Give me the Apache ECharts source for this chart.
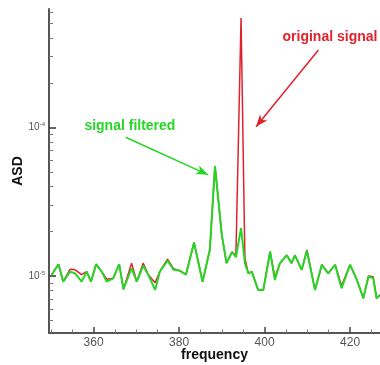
<!DOCTYPE html>
<html>
<head>
<meta charset="utf-8">
<style>
  html, body { margin: 0; padding: 0; background: #fff; }
  #chart { width: 380px; height: 365px; }
</style>
</head>
<body>
<div id="chart"></div>
<script src="https://cdn.jsdelivr.net/npm/echarts@6/dist/echarts.min.js"></script>
<script>
// frequency axis points
const freq = [350.2, 351.8, 352.9, 354.5, 355.7, 357.2, 358.4, 359.4, 360.6, 361.9,
  363.1, 364.6, 366.0, 367.0, 368.9, 370.1, 371.6, 372.8, 374.4, 375.5,
  377.3, 378.7, 380.2, 381.6, 383.5, 385.5, 387.2, 388.4, 390.0, 391.1,
  392.4, 393.3, 394.5, 395.4, 396.2, 397.0, 398.5, 399.7, 401.3, 402.4,
  403.6, 405.2, 406.3, 407.1, 408.7, 409.9, 411.8, 413.4, 414.9, 416.5,
  418.0, 420.0, 421.6, 423.1, 424.3, 425.4, 426.2, 427.0];

// ASD, in units of 1e-5
const original = [1.02, 1.20, 0.915, 1.11, 1.10, 1.02, 1.07, 0.915, 1.20, 1.07,
  0.95, 0.965, 1.20, 0.814, 1.22, 0.915, 1.22, 1.02, 0.90, 1.07,
  1.30, 1.12, 1.085, 1.02, 1.68, 0.915, 1.50, 5.5, 1.89, 1.22,
  1.45, 1.38, 54.6, 1.32, 1.04, 1.07, 0.805, 0.805, 1.46, 0.98,
  1.22, 1.38, 1.22, 1.38, 1.10, 1.50, 0.805, 1.19, 1.04, 1.19,
  0.86, 1.19, 0.94, 0.708, 1.00, 0.99, 0.708, 0.745];

const filtered = [1.02, 1.20, 0.915, 1.07, 1.04, 0.915, 1.07, 0.915, 1.20, 1.07,
  0.915, 0.965, 1.20, 0.814, 1.127, 0.915, 1.17, 1.02, 0.805, 1.07,
  1.27, 1.10, 1.085, 1.02, 1.68, 0.915, 1.50, 5.5, 1.89, 1.22,
  1.45, 1.34, 2.10, 1.22, 1.04, 1.07, 0.805, 0.805, 1.46, 0.94,
  1.22, 1.38, 1.22, 1.38, 1.10, 1.48, 0.805, 1.19, 1.04, 1.19,
  0.826, 1.19, 0.94, 0.708, 0.99, 0.965, 0.708, 0.745];

// ticks
const xTicks = [360, 380, 400, 420];
const xMinor = [350, 355, 365, 370, 375, 385, 390, 395, 405, 410, 415, 425];
const yTicks = [1e-5, 1e-4];
const yMinor = [5e-6, 6e-6, 7e-6, 8e-6, 9e-6, 2e-5, 3e-5, 4e-5, 5e-5, 6e-5, 7e-5, 8e-5, 9e-5,
  2e-4, 3e-4, 4e-4, 5e-4, 6e-4];

// annotations [freq, ASD]
const filteredText = [368.5, 1.02e-4];
const filteredArrow = [[367.5, 8.6e-5], [386.8, 4.8e-5]];
const originalText = [415.3, 4.04e-4];
const originalArrow = [[412.6, 3.33e-4], [398.0, 1.01e-4]];

const xMin = 349.58, xMax = 427;
const yMin = 4.13e-6, yMax = 6.28e-4;

const RED = '#e0222c';
const GREEN = '#26d626';

function pairs(vals) {
  return freq.map((f, i) => [f, vals[i] * 1e-5]);
}

const chart = echarts.init(document.getElementById('chart'));

const option = {
  animation: false,
  textStyle: { fontFamily: 'Liberation Sans, Arial, sans-serif' },
  grid: { left: 49, right: 0, top: 9, bottom: 32, outerBoundsMode: 'none' },
  xAxis: [
    {
      type: 'value', min: xMin, max: xMax,
      name: 'frequency', nameLocation: 'middle', nameGap: 15, nameMoveOverlap: false,
      nameTextStyle: { fontWeight: 'bold', fontSize: 14, color: '#111' },
      axisLine: { lineStyle: { color: '#555', width: 2 } },
      axisTick: { inside: true, length: 6, customValues: xTicks, lineStyle: { color: '#444', width: 1.5 } },
      axisLabel: { customValues: xTicks, color: '#555', fontSize: 12, margin: 4 },
      splitLine: { show: false }
    },
    {
      type: 'value', min: xMin, max: xMax, position: 'bottom',
      axisLine: { show: false },
      axisTick: { inside: true, length: 3.5, customValues: xMinor, lineStyle: { color: '#777' } },
      axisLabel: { show: false },
      splitLine: { show: false }
    }
  ],
  yAxis: [
    {
      type: 'log', logBase: 10, min: yMin, max: yMax,
      name: 'ASD', nameLocation: 'middle', nameGap: 24, nameMoveOverlap: false,
      nameTextStyle: { fontWeight: 'bold', fontSize: 14, color: '#111' },
      axisLine: { lineStyle: { color: '#555', width: 2 } },
      axisTick: { inside: true, length: 7, customValues: yTicks, lineStyle: { color: '#333', width: 1.5 } },
      axisLabel: {
        customValues: yTicks, margin: 4,
        formatter: v => '{a|10}{b|' + Math.round(Math.log10(v)) + '}',
        rich: {
          a: { fontSize: 10, color: '#555' },
          b: { fontSize: 6, color: '#555', verticalAlign: 'top', padding: [0, 0, 6, 0] }
        }
      },
      splitLine: { show: false }
    },
    {
      type: 'log', logBase: 10, min: yMin, max: yMax, position: 'left',
      axisLine: { show: false },
      axisTick: { inside: true, length: 4, customValues: yMinor, lineStyle: { color: '#777' } },
      axisLabel: { show: false },
      splitLine: { show: false }
    }
  ],
  series: [
    {
      name: 'original signal', type: 'line', showSymbol: false,
      data: pairs(original),
      lineStyle: { color: RED, width: 1.5 },
      itemStyle: { color: RED },
      markLine: {
        silent: true, symbol: ['none', 'arrow'], symbolSize: [7, 12],
        lineStyle: { color: RED, width: 1.5, type: 'solid' },
        label: { show: false },
        data: [[{ coord: originalArrow[0] }, { coord: originalArrow[1] }]]
      },
      markPoint: {
        symbol: 'circle', symbolSize: 0, silent: true,
        label: { show: true, formatter: 'original signal', color: RED, fontWeight: 'bold', fontSize: 14 },
        data: [{ coord: originalText }]
      }
    },
    {
      name: 'signal filtered', type: 'line', showSymbol: false,
      data: pairs(filtered),
      lineStyle: { color: GREEN, width: 2 },
      itemStyle: { color: GREEN },
      markLine: {
        silent: true, symbol: ['none', 'arrow'], symbolSize: [7, 12],
        lineStyle: { color: GREEN, width: 1.5, type: 'solid' },
        label: { show: false },
        data: [[{ coord: filteredArrow[0] }, { coord: filteredArrow[1] }]]
      },
      markPoint: {
        symbol: 'circle', symbolSize: 0, silent: true,
        label: { show: true, formatter: 'signal filtered', color: GREEN, fontWeight: 'bold', fontSize: 14 },
        data: [{ coord: filteredText }]
      }
    }
  ]
};

chart.setOption(option);
window.addEventListener('resize', () => chart.resize());
</script>
</body>
</html>
